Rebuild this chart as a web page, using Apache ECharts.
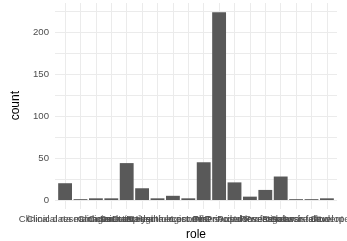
<!DOCTYPE html>
<html>
<head>
<meta charset="utf-8">
<script src="https://cdn.jsdelivr.net/npm/echarts@6/dist/echarts.min.js"></script>
<style>
html,body{margin:0;padding:0;background:#fff;}
#chart{width:347px;height:241px;}
</style>
</head>
<body>
<div id="chart"></div>
<script>
const categories = [
  "Clinical data manager",
  "Clinical research scientist",
  "Clinician",
  "Consultant",
  "Data analyst",
  "Data engineer",
  "Epidemiologist",
  "Health economist",
  "Lecturer",
  "Other",
  "PhD student",
  "Postdoc",
  "Principal investigator",
  "Professor",
  "Research assistant",
  "Research fellow",
  "Software developer",
  "Student"
];
const counts = [20, 1, 2, 2, 44, 14, 2, 5, 2, 45, 224, 21, 4, 12, 28, 1, 1, 2];
const yTicks = [0, 50, 100, 150, 200];

const chart = echarts.init(document.getElementById('chart'), null, {renderer: 'canvas'});
const gridColor = '#ebebeb';
const fontFam = '"Liberation Sans", Arial, sans-serif';

chart.setOption({
  animation: false,
  backgroundColor: '#ffffff',
  grid: [
    {left: 55, right: 10, top: 11.3, bottom: 41, outerBoundsMode: 'none', containLabel: false},
    {left: 57.4, right: 12.4, top: 11.3, bottom: 41, outerBoundsMode: 'none', containLabel: false},
    {left: 57.4, right: 12.4, top: 3, bottom: 32, outerBoundsMode: 'none', containLabel: false}
  ],
  xAxis: [
    {gridIndex: 0, type: 'value', min: 0, max: 1, show: false},
    {gridIndex: 1, type: 'category', data: categories,
      axisLine: {show: false}, axisTick: {show: false},
      axisLabel: {interval: 0, hideOverlap: false, margin: 14, fontSize: 9.6,
        color: '#4d4d4d', fontFamily: fontFam},
      name: 'role', nameLocation: 'middle', nameGap: 28,
      nameTextStyle: {fontSize: 12, color: '#000', fontFamily: fontFam}
    },
    {gridIndex: 2, type: 'category', data: categories,
      axisLine: {show: false}, axisLabel: {show: false, interval: 0},
      axisTick: {show: true, interval: 0, alignWithLabel: true, inside: true, length: 206,
        lineStyle: {color: gridColor, width: 1}}
    }
  ],
  yAxis: [
    {gridIndex: 0, type: 'value', min: 0, max: 225, interval: 25,
      axisLine: {show: false}, axisTick: {show: false},
      splitLine: {show: true, lineStyle: {color: gridColor, width: 1}},
      axisLabel: {margin: 6, fontSize: 9.6, color: '#4d4d4d', fontFamily: fontFam,
        formatter: v => (yTicks.indexOf(v) >= 0 ? String(v) : '')},
      name: 'count', nameLocation: 'middle', nameGap: 29,
      nameTextStyle: {fontSize: 12, color: '#000', fontFamily: fontFam}
    },
    {gridIndex: 1, type: 'value', min: 0, max: 225, show: false},
    {gridIndex: 2, type: 'value', min: 0, max: 1, show: false}
  ],
  series: [{
    type: 'bar',
    xAxisIndex: 1,
    yAxisIndex: 1,
    data: counts,
    barCategoryGap: '10%',
    itemStyle: {color: '#595959'},
    z: 5
  }]
});
</script>
</body>
</html>
